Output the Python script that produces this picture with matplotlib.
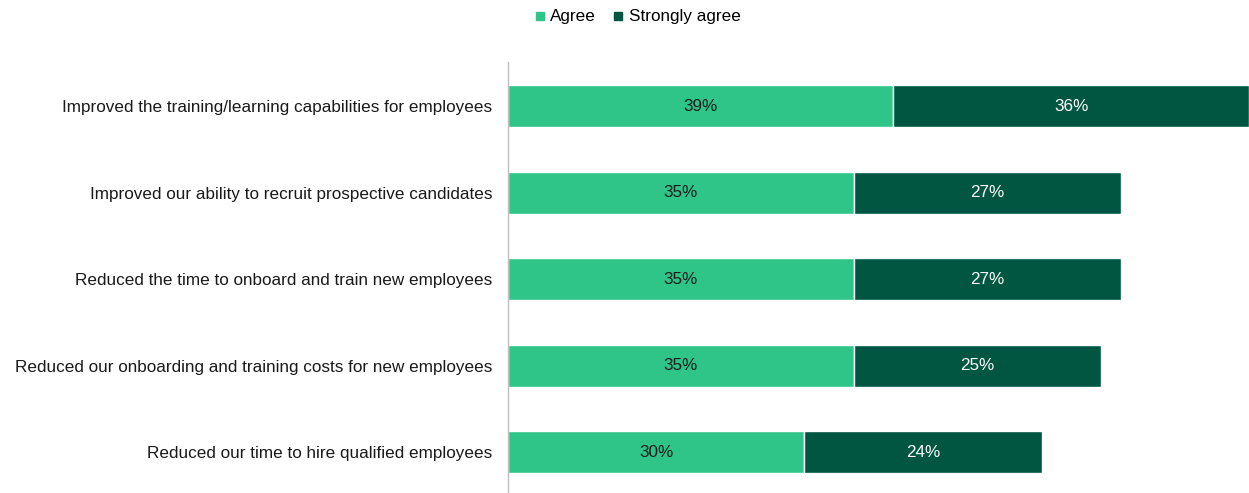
import matplotlib.pyplot as plt
from matplotlib.lines import Line2D

plt.rcParams['font.family'] = ['Liberation Sans', 'DejaVu Sans']

# Survey statements and shares of respondents (%)
statements = [
    "Improved the training/learning capabilities for employees",
    "Improved our ability to recruit prospective candidates",
    "Reduced the time to onboard and train new employees",
    "Reduced our onboarding and training costs for new employees",
    "Reduced our time to hire qualified employees",
]
agree = [39, 35, 35, 35, 30]
strongly_agree = [36, 27, 27, 25, 24]

light = "#30C588"
dark = "#005640"
fs = 12.3

fig = plt.figure(figsize=(12.49, 4.93), dpi=100)
ax = fig.add_axes([508 / 1249, 0, 741 / 1249, 431 / 493])

pos = list(range(len(statements)))
ax.barh(pos, agree, height=0.486, color=light, edgecolor="white", linewidth=1)
ax.barh(pos, strongly_agree, left=agree, height=0.486, color=dark,
        edgecolor="white", linewidth=1)

for i in pos:
    ax.text(agree[i] / 2, i, f"{agree[i]}%", ha="center", va="center",
            fontsize=fs, color="#1a1a1a")
    ax.text(agree[i] + strongly_agree[i] / 2, i, f"{strongly_agree[i]}%",
            ha="center", va="center", fontsize=fs, color="white")

ax.set_xlim(0, 75)
ax.set_ylim(4.47, -0.51)
ax.set_yticks(pos)
ax.set_yticklabels(statements, fontsize=fs, color="#1a1a1a")
ax.tick_params(axis="y", length=0, pad=11.5)
ax.set_xticks([])
for side in ["top", "right", "bottom"]:
    ax.spines[side].set_visible(False)
ax.spines["left"].set_color("#BFBFBF")
ax.spines["left"].set_linewidth(1)

handles = [
    Line2D([], [], marker="s", linestyle="none", markersize=6, color=light),
    Line2D([], [], marker="s", linestyle="none", markersize=6, color=dark),
]
fig.legend(handles, ["Agree", "Strongly agree"], loc="center",
           bbox_to_anchor=(636 / 1249, 1 - 17 / 493), ncol=2, frameon=False,
           fontsize=fs, handletextpad=0.1, columnspacing=0.8,
           handlelength=1.0)

fig.savefig("out.png", dpi=100)
